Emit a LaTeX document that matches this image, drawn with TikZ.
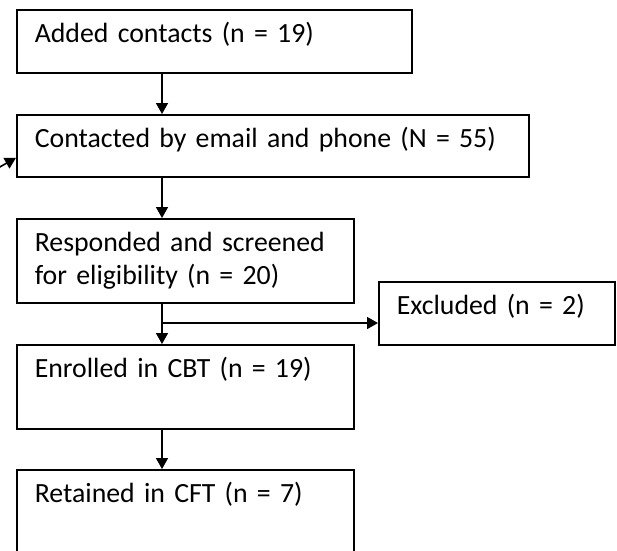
\documentclass[tikz,border=0pt]{standalone}
\usepackage{fontspec}
\setmainfont{Carlito}
\usetikzlibrary{arrows.meta}
\tikzset{
	stage/.style={draw, line width=1.6pt, anchor=north west, inner xsep=18pt, inner ysep=0pt, text height=33pt, align=left, font=\fontsize{27.8}{33}\selectfont},
	flow/.style={line width=1.6pt, -{Triangle[length=11pt,width=12pt]}}
}

\begin{document}
\begin{tikzpicture}[x=1pt,y=1pt]
		%%%%% START %%%%%
		
		\useasboundingbox (0,0) rectangle (617,-550);
		
		\node[stage, text width=359pt, text depth=30pt] (added) at (16,-9) {Added contacts (n = 19)};
		\node[stage, text width=476pt, text depth=29pt] (contact) at (16,-114) {Contacted by email and phone (N = 55)};
		\node[stage, text width=301pt, text depth=51pt] (screen) at (16,-218) {Responded and screened\\for eligibility (n = 20)};
		\node[stage, text width=200pt, text depth=30pt] (excl) at (378,-281) {Excluded (n = 2)};
		\node[stage, text width=301pt, text depth=51pt] (enrol) at (16,-344) {Enrolled in CBT (n = 19)};
		\node[stage, text width=301pt, text depth=51pt] (retain) at (16,-469) {Retained in CFT (n = 7)};
		
		\coordinate (trunk) at (162,0);
		\coordinate (split) at (162,-323);
		\coordinate (feed) at (-2,-168);
		
		\draw[flow] (added.south -| trunk) -- (contact.north -| trunk);
		\draw[flow] (contact.south -| trunk) -- (screen.north -| trunk);
		\draw[flow] (screen.south -| trunk) -- (enrol.north -| trunk);
		\draw[flow] (split) -- (split -| excl.west);
		\draw[flow] (enrol.south -| trunk) -- (retain.north -| trunk);
		\draw[flow] (feed) -- ([yshift=-12pt]contact.west);
		
		%%%%% END %%%%%
\end{tikzpicture}
\end{document}
